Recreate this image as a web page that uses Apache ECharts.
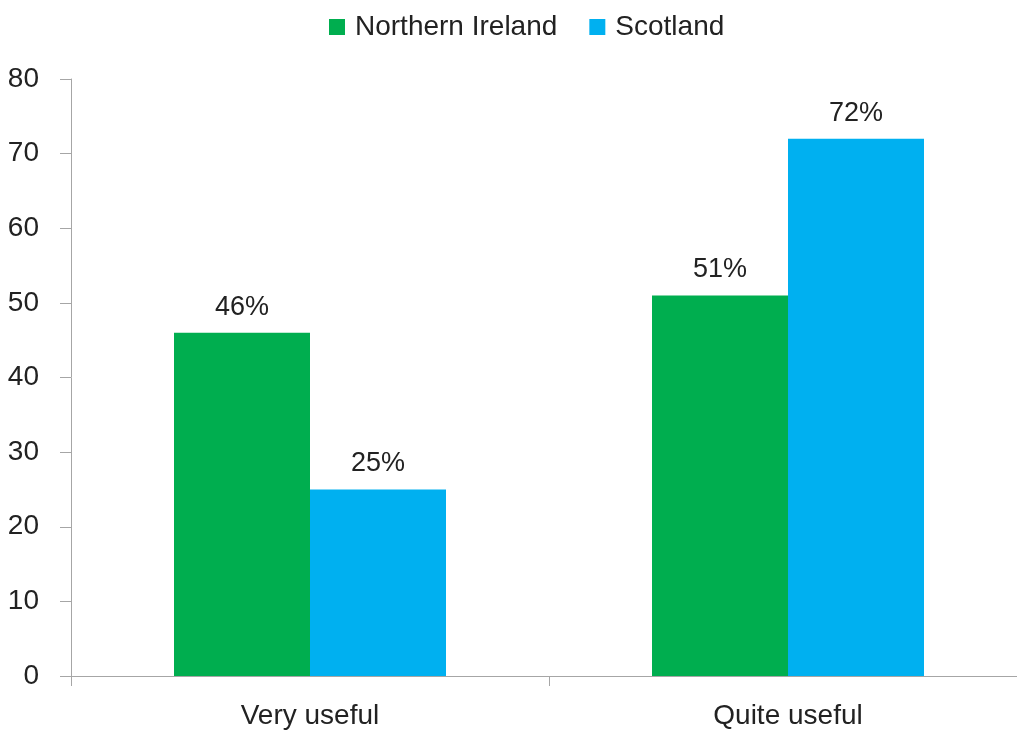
<!DOCTYPE html>
<html>
<head>
<meta charset="utf-8">
<script src="https://cdn.jsdelivr.net/npm/echarts@6/dist/echarts.min.js"></script>
<style>
  html, body { margin: 0; padding: 0; background: #fff; overflow: hidden; }
  #chart { width: 1027px; height: 730px; }
</style>
</head>
<body>
<div id="chart"></div>
<script>
  const categories = ['Very useful', 'Quite useful']
  const northernIreland = [46, 51]
  const scotland = [25, 72]
  const yTicks = [0, 10, 20, 30, 40, 50, 60, 70, 80]

  const font = '"Liberation Sans", Arial, sans-serif'
  const textColor = '#222'
  const axisColor = '#a6a6a6'

  const labelStyle = {
    show: true,
    position: 'top',
    distance: 12,
    fontFamily: font,
    fontSize: 27,
    color: textColor,
    formatter: p => p.value + '%'
  }

  const option = {
    animation: false,
    legend: {
      top: 8,
      left: 324,
      itemWidth: 16,
      itemHeight: 16,
      itemGap: 32,
      icon: 'rect',
      textStyle: { fontFamily: font, fontSize: 28, color: textColor, padding: [0, 0, 0, 5] },
      data: ['Northern Ireland', 'Scotland']
    },
    // canvas is 10px wider than the window so the 2nd category ends off-screen
    grid: {
      left: 71,
      right: 0,
      top: 79,
      bottom: 54,
      containLabel: false
    },
    xAxis: {
      type: 'category',
      data: categories,
      axisLine: { lineStyle: { color: axisColor, width: 1 } },
      axisTick: { show: true, length: 10, lineStyle: { color: axisColor } },
      axisLabel: { margin: 26, fontFamily: font, fontSize: 28, color: textColor }
    },
    yAxis: {
      type: 'value',
      min: yTicks[0],
      max: yTicks[yTicks.length - 1],
      interval: 10,
      axisLine: { show: true, lineStyle: { color: axisColor, width: 1 } },
      axisTick: { show: true, length: 11, lineStyle: { color: axisColor } },
      splitLine: { show: false },
      axisLabel: { margin: 32, fontFamily: font, fontSize: 28, color: textColor }
    },
    series: [
      {
        name: 'Northern Ireland',
        type: 'bar',
        data: northernIreland,
        barWidth: 136,
        barGap: '0%',
        itemStyle: { color: '#00AE4F' },
        label: labelStyle
      },
      {
        name: 'Scotland',
        type: 'bar',
        data: scotland,
        barWidth: 136,
        barGap: '0%',
        itemStyle: { color: '#00B0F0' },
        label: labelStyle
      }
    ]
  }

  const chart = echarts.init(document.getElementById('chart'))
  chart.setOption(option)
  window.onresize = () => {
    chart.resize()
  }
</script>
</body>
</html>
